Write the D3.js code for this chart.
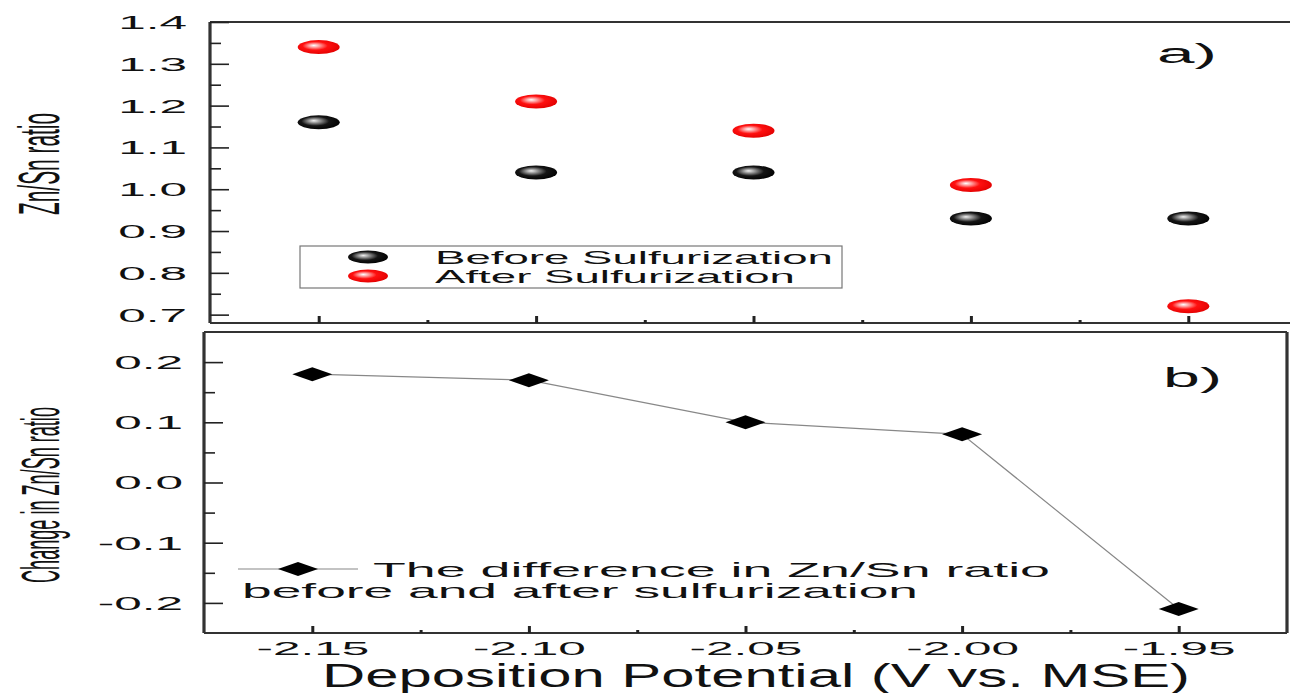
<!DOCTYPE html>
<html>
<head>
<meta charset="utf-8">
<script src="https://cdn.jsdelivr.net/npm/d3@7"></script>
<style>
  body { margin: 0; background: #fff; }
  text { font-family: "Liberation Sans", Arial, sans-serif; fill: #111; }
</style>
</head>
<body>
<div id="chart"></div>
<script>
// data
const potentials = [-2.15, -2.1, -2.05, -2.0, -1.95];
const beforeRatio = [1.16, 1.04, 1.04, 0.93, 0.93];
const afterRatio = [1.34, 1.21, 1.14, 1.01, 0.72];
const ratioChange = [0.18, 0.17, 0.1, 0.08, -0.21];

const xTicks = [-2.15, -2.1, -2.05, -2.0, -1.95];
const xTickLabels = ["-2.15", "-2.10", "-2.05", "-2.00", "-1.95"];
const xMinor = [-2.125, -2.075, -2.025, -1.975];
const topYTicks = [0.7, 0.8, 0.9, 1.0, 1.1, 1.2, 1.3, 1.4];
const topYTickLabels = ["0.7", "0.8", "0.9", "1.0", "1.1", "1.2", "1.3", "1.4"];
const topYMinor = [0.75, 0.85, 0.95, 1.05, 1.15, 1.25, 1.35];
const botYTicks = [-0.2, -0.1, 0.0, 0.1, 0.2];
const botYTickLabels = ["-0.2", "-0.1", "0.0", "0.1", "0.2"];
const botYMinor = [-0.15, -0.05, 0.05, 0.15];

const W = 1290, H = 693;
const STRETCH = 2.75; // figure text is stretched horizontally

const svg = d3
  .select("#chart")
  .append("svg")
  .attr("width", W)
  .attr("height", H);

// gradients for the shiny ellipse markers
const defs = svg.append("defs");
function ballGradient(id, stops) {
  const g = defs
    .append("radialGradient")
    .attr("id", id)
    .attr("cx", "45%")
    .attr("cy", "45%")
    .attr("r", "60%")
    .attr("fx", "38%")
    .attr("fy", "38%");
  stops.forEach(([o, c]) => g.append("stop").attr("offset", o).attr("stop-color", c));
}
ballGradient("gradBlack", [["0%", "#f2f2f2"], ["22%", "#999"], ["55%", "#151515"], ["100%", "#000"]]);
ballGradient("gradRed", [["0%", "#ffffff"], ["22%", "#ff9a9a"], ["50%", "#ff1010"], ["100%", "#e00000"]]);

// scales
const xTop = d3.scaleLinear().domain([-2.175, -1.925]).range([210, 1297]);
const yTop = d3.scaleLinear().domain([0.68, 1.4]).range([323, 22]);
const xBot = d3.scaleLinear().domain([-2.175, -1.925]).range([204, 1287]);
const yBot = d3.scaleLinear().domain([-0.25, 0.25]).range([633, 332]);

function yAxis(y, x0, ticks, labels, minor, labelGap) {
  svg
    .append("g")
    .attr("transform", `translate(${x0},0)`)
    .call(
      d3.axisLeft(y).tickValues(ticks).tickSize(-19)
        .tickFormat((d, i) => labels[i])
    )
    .call((g) => g.select(".domain").remove())
    .call((g) => g.selectAll("line").attr("stroke", "#222").attr("stroke-width", 1.6))
    .call((g) =>
      g.selectAll("text")
        .attr("x", 0)
        .attr("dy", "0.36em")
        .attr("fill", "#111")
        .style("font-size", "18px")
        .attr("transform", `translate(${-labelGap},0) scale(${STRETCH},1)`)
    );
  svg
    .append("g")
    .attr("transform", `translate(${x0},0)`)
    .call(d3.axisLeft(y).tickValues(minor).tickSize(-11).tickFormat(""))
    .call((g) => g.select(".domain").remove())
    .call((g) => g.selectAll("line").attr("stroke", "#222").attr("stroke-width", 1.6));
}

function xAxis(x, y0, showLabels) {
  svg
    .append("g")
    .attr("transform", `translate(0,${y0})`)
    .call(
      d3.axisBottom(x).tickValues(xTicks).tickSize(-7)
        .tickFormat((d, i) => (showLabels ? xTickLabels[i] : ""))
    )
    .call((g) => g.select(".domain").remove())
    .call((g) => g.selectAll("line").attr("stroke", "#222").attr("stroke-width", 3))
    .call((g) =>
      g.selectAll("text")
        .attr("y", 22)
        .attr("dy", 0)
        .attr("fill", "#111")
        .style("font-size", "18px")
        .attr("transform", `scale(${STRETCH},1)`)
    );
  svg
    .append("g")
    .attr("transform", `translate(0,${y0})`)
    .call(d3.axisBottom(x).tickValues(xMinor).tickSize(-3).tickFormat(""))
    .call((g) => g.select(".domain").remove())
    .call((g) => g.selectAll("line").attr("stroke", "#222").attr("stroke-width", 3));
}

function frame(x, y) {
  const [x0, x1] = x.range();
  const [y1, y0] = y.range();
  const f = svg.append("g").attr("stroke", "#333").attr("fill", "none");
  f.append("line").attr("x1", x0).attr("x2", x1).attr("y1", y0).attr("y2", y0).attr("stroke-width", 1.8);
  f.append("line").attr("x1", x0).attr("x2", x1).attr("y1", y1).attr("y2", y1).attr("stroke-width", 1.8);
  f.append("line").attr("x1", x0).attr("x2", x0).attr("y1", y0).attr("y2", y1).attr("stroke-width", 3.2);
  f.append("line").attr("x1", x1).attr("x2", x1).attr("y1", y0).attr("y2", y1).attr("stroke-width", 3.2);
}

// rotated axis title, squeezed along its length to a measured size
function sideTitle(label, cx, cy, size, len) {
  const t = svg.append("text")
    .attr("text-anchor", "middle")
    .style("font-size", size + "px")
    .text(label);
  const natural = t.node().getComputedTextLength();
  t.attr("transform", `translate(${cx},${cy}) rotate(-90) scale(${len / natural},1)`);
}

// ---------- panel a ----------
frame(xTop, yTop);
yAxis(yTop, 210, topYTicks, topYTickLabels, topYMinor, 23);
xAxis(xTop, 323, false);

svg
  .selectAll(".before")
  .data(potentials)
  .enter()
  .append("ellipse")
  .attr("class", "before")
  .attr("cx", (d) => xTop(d))
  .attr("cy", (d, i) => yTop(beforeRatio[i]))
  .attr("rx", 21)
  .attr("ry", 7)
  .attr("fill", "url(#gradBlack)");

svg
  .selectAll(".after")
  .data(potentials)
  .enter()
  .append("ellipse")
  .attr("class", "after")
  .attr("cx", (d) => xTop(d))
  .attr("cy", (d, i) => yTop(afterRatio[i]))
  .attr("rx", 21)
  .attr("ry", 7)
  .attr("fill", "url(#gradRed)");

// legend a
const legA = svg.append("g");
legA.append("rect")
  .attr("x", 300).attr("y", 246).attr("width", 542).attr("height", 42)
  .attr("fill", "#fff").attr("stroke", "#777").attr("stroke-width", 1.2);
[["Before Sulfurization", "url(#gradBlack)", 257, 398], ["After Sulfurization", "url(#gradRed)", 276, 360]]
  .forEach(([label, fill, cy, len]) => {
    legA.append("ellipse").attr("cx", 368).attr("cy", cy).attr("rx", 20).attr("ry", 6.5).attr("fill", fill);
    legA.append("text")
      .attr("x", 435).attr("y", cy + 7)
      .attr("textLength", len).attr("lengthAdjust", "spacingAndGlyphs")
      .style("font-size", "19px")
      .text(label);
  });

svg.append("text")
  .attr("x", 1157).attr("y", 63)
  .attr("textLength", 60).attr("lengthAdjust", "spacingAndGlyphs")
  .style("font-size", "27px")
  .text("a)");

sideTitle("Zn/Sn ratio", 59, 164, 57, 102);

// ---------- panel b ----------
frame(xBot, yBot);
yAxis(yBot, 204, botYTicks, botYTickLabels, botYMinor, 21);
xAxis(xBot, 633, true);

const line = d3
  .line()
  .x((d) => xBot(d))
  .y((d, i) => yBot(ratioChange[i]));

svg.append("path")
  .datum(potentials)
  .attr("d", line)
  .attr("fill", "none")
  .attr("stroke", "#888")
  .attr("stroke-width", 1.2);

const diamond = "M-20,0L0,-7L20,0L0,7Z";
svg
  .selectAll(".diff")
  .data(potentials)
  .enter()
  .append("path")
  .attr("class", "diff")
  .attr("d", diamond)
  .attr("transform", (d, i) => `translate(${xBot(d)},${yBot(ratioChange[i])})`)
  .attr("fill", "#000");

// legend b
const legB = svg.append("g");
legB.append("line").attr("x1", 238).attr("x2", 358).attr("y1", 569).attr("y2", 569)
  .attr("stroke", "#888").attr("stroke-width", 1.2);
legB.append("path").attr("d", diamond).attr("transform", "translate(298,569)").attr("fill", "#000");
legB.append("text")
  .attr("x", 373).attr("y", 577)
  .attr("textLength", 677).attr("lengthAdjust", "spacingAndGlyphs")
  .style("font-size", "21px")
  .text("The difference in Zn/Sn ratio");
legB.append("text")
  .attr("x", 242).attr("y", 598)
  .attr("textLength", 676).attr("lengthAdjust", "spacingAndGlyphs")
  .style("font-size", "21px")
  .text("before and after sulfurization");

svg.append("text")
  .attr("x", 1163).attr("y", 387)
  .attr("textLength", 59).attr("lengthAdjust", "spacingAndGlyphs")
  .style("font-size", "27px")
  .text("b)");

sideTitle("Change in Zn/Sn ratio", 59, 495, 53, 176);

// x axis title
svg.append("text")
  .attr("x", 322).attr("y", 687)
  .attr("textLength", 868).attr("lengthAdjust", "spacingAndGlyphs")
  .style("font-size", "33px")
  .text("Deposition Potential (V vs. MSE)");
</script>
</body>
</html>
